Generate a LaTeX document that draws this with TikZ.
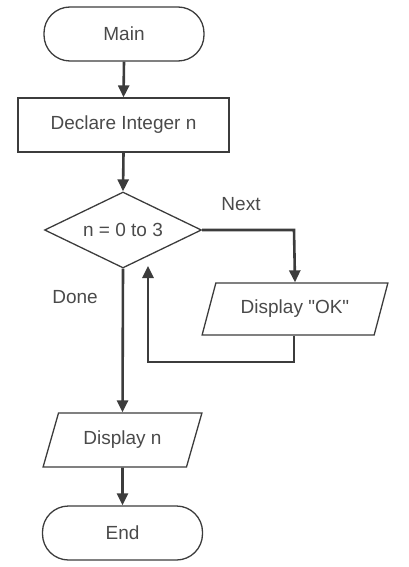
\documentclass[tikz,border=0pt]{standalone}
\usepackage{fontspec}
\setmainfont{Liberation Sans}[Ligatures=TeXOff]
\usetikzlibrary{shapes.geometric,arrows.meta}
\definecolor{ln}{HTML}{3C3C3C}
\definecolor{tx}{HTML}{4A4A4A}
\begin{document}
\begin{tikzpicture}[x=1pt,y=-1pt,
  every node/.style={font=\fontsize{19}{22}\selectfont,text=tx},
  term/.style={draw=ln,line width=1.3pt,rectangle,rounded corners=26pt,minimum width=160pt,minimum height=54pt,inner sep=0pt},
  procbox/.style={draw=ln,line width=1.3pt,rectangle,minimum width=211pt,minimum height=54pt,inner sep=0pt},
  decide/.style={draw=ln,line width=1.3pt,diamond,aspect=2.07,minimum width=157pt,minimum height=76pt,inner sep=0pt},
  iobox/.style={draw=ln,line width=1.3pt,trapezium,trapezium left angle=62,trapezium right angle=118,trapezium stretches=true,inner sep=0pt},
  flow/.style={draw=ln,line width=2.6pt,-{Triangle[width=11pt,length=12pt]}},
  lbl/.style={inner sep=0pt}]
\useasboundingbox (0,0) rectangle (408,567);
\node[term] (main) at (124,34) {Main};
\node[procbox] (decl) at (123.5,125) {Declare Integer n};
\node[decide] (loop) at (123,230) {n = 0 to 3};
\node[iobox,minimum width=186pt,minimum height=52pt] (ok) at (295,309) {Display "OK"};
\node[iobox,minimum width=159pt,minimum height=54pt] (dispn) at (122.5,440) {Display n};
\node[term] (end) at (122.5,533) {End};
\node[lbl] (next) at (241,204) {Next};
\node[lbl] (done) at (75,297) {Done};
\coordinate (c1) at (294,230);
\coordinate (c2) at (294,362);
\coordinate (c3) at (148,362);
\coordinate (c4) at (148,266);
\draw[flow] (main.south) -- (decl.north);
\draw[flow] (decl.south) -- (loop.north);
\draw[flow] (loop.east) -- (c1) -- (ok.north);
\draw[flow] (ok.south -| c2) -- (c2) -- (c3) -- (c4);
\draw[flow] (loop.south) -- (dispn.north);
\draw[flow] (dispn.south) -- (end.north);
\end{tikzpicture}
\end{document}
